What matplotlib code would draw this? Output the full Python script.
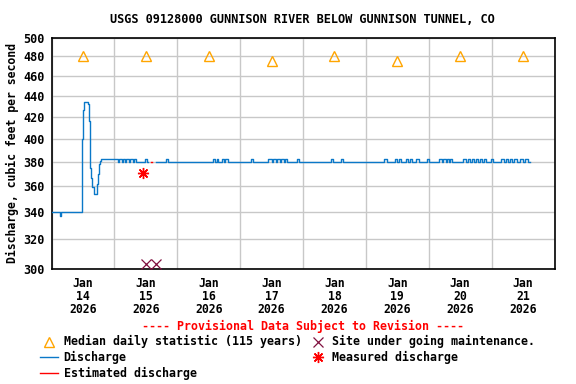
import matplotlib
matplotlib.use("Agg")
import matplotlib.pyplot as plt
from matplotlib.lines import Line2D
from matplotlib.ticker import FixedLocator, NullFormatter
import numpy as np

# ---------------- data (hours since Jan 14 2026 00:00) ----------------
day_labels = ["Jan\n14\n2026", "Jan\n15\n2026", "Jan\n16\n2026", "Jan\n17\n2026",
              "Jan\n18\n2026", "Jan\n19\n2026", "Jan\n20\n2026", "Jan\n21\n2026"]
label_hours = [12, 36, 60, 84, 108, 132, 156, 180]
grid_hours = [0, 24, 48, 72, 96, 120, 144, 168, 192]

# median daily statistic (115 years)
median_hours = [12, 36, 60, 84, 108, 132, 156, 180]
median_cfs = [480, 480, 480, 475, 480, 475, 480, 480]

# discharge, first part (before maintenance gap) -- step breakpoints
dis1_hours = [0, 3.1, 3.5, 11.75, 12.1, 12.5, 14.05, 14.4, 14.8, 15.2, 15.6, 16.1,
              17.25, 17.75, 18.1, 18.5, 19.0, 25.5, 25.9, 26.8, 27.2, 28.0, 28.4,
              29.5, 30.0, 31.2, 31.6, 32.3, 35.6, 36.4, 37.0]
dis1_cfs = [340, 337, 340, 400, 426, 434, 432, 416, 375, 367, 359, 354,
            362, 370, 378, 381, 382, 380, 382, 380, 382, 380, 382,
            380, 382, 380, 382, 380, 382, 380, 380]

# discharge, second part (after gap): base level with short blips
dis2_base = 380
dis2_blip = 382
dis2_start, dis2_end = 40.0, 182.6
blip_start = [43.7, 61.6, 63.0, 65.1, 66.2, 76.1, 82.6, 84.7, 86.1, 87.6, 89.1, 93.7,
              106.7, 110.5, 126.9, 131.3, 132.8, 135.3, 136.8, 139.3, 143.3, 147.9,
              149.6, 151.0, 152.1, 157.1, 158.8, 160.5, 162.0, 163.6, 165.1, 167.8,
              171.6, 173.3, 175.0, 176.5, 178.8, 180.7]
blip_end = [44.5, 62.4, 63.6, 65.8, 67.4, 76.9, 84.2, 85.7, 87.2, 88.7, 89.9, 94.5,
            107.4, 111.1, 128.1, 131.9, 133.4, 136.1, 137.6, 140.1, 144.1, 149.0,
            150.6, 151.7, 152.9, 158.2, 159.7, 161.3, 162.8, 164.3, 165.9, 168.5,
            172.7, 174.3, 175.8, 177.7, 180.0, 181.9]

# estimated discharge
est_hours = [38.1, 38.45]
est_cfs = [380, 380]

# measured discharge
meas_hours = [35.0]
meas_cfs = [371]

# site under going maintenance
maint_hours = [36.1, 39.9]
maint_cfs = [303, 303]

y_ticks = [300, 320, 340, 360, 380, 400, 420, 440, 460, 480, 500]

# ---------------- styling ----------------
FONT = "DejaVu Sans Mono"
BLUE = "#0a78c8"
ORANGE = "#ffa500"
MAROON = "#80103f"
RED = "#ff0000"
W, H = 576, 384

fig = plt.figure(figsize=(W / 100, H / 100), dpi=100)
L, R, T, B = 51.5, 554.5, 38.0, 268.5
ax = fig.add_axes([L / W, 1 - B / H, (R - L) / W, (B - T) / H])

ax.set_yscale("log")
ax.set_ylim(300, 500)
ax.set_xlim(0, 192)

# discharge series
h2 = [dis2_start]
v2 = [dis2_base]
for s, e in zip(blip_start, blip_end):
    h2 += [s, e]
    v2 += [dis2_blip, dis2_base]
h2.append(dis2_end)
v2.append(dis2_base)
ax.plot(dis1_hours, dis1_cfs, drawstyle="steps-post", color=BLUE, lw=1.0, zorder=3)
ax.plot(h2, v2, drawstyle="steps-post", color=BLUE, lw=1.0, zorder=3)
ax.plot(est_hours, est_cfs, color=RED, lw=1.0, zorder=3)

ax.plot(median_hours, median_cfs, ls="none", marker="^", ms=7, mfc="none",
        mec=ORANGE, mew=1.0, zorder=4)
ax.plot(meas_hours, meas_cfs, ls="none", marker=(8, 2, 0), ms=8, mec=RED,
        mew=1.0, zorder=4)
ax.plot(maint_hours, maint_cfs, ls="none", marker="x", ms=6.5, mec=MAROON,
        mew=0.9, zorder=4)

# axes / ticks
ax.yaxis.set_major_locator(FixedLocator(y_ticks))
ax.yaxis.set_minor_locator(FixedLocator([]))
ax.set_yticklabels([str(v) for v in y_ticks])
ax.yaxis.set_minor_formatter(NullFormatter())
ax.xaxis.set_major_locator(FixedLocator(label_hours))
ax.set_xticklabels(day_labels)
ax.xaxis.set_minor_locator(FixedLocator(grid_hours))
ax.tick_params(axis="both", which="both", length=0)
ax.tick_params(axis="y", pad=5)
ax.tick_params(axis="x", pad=6)
for lab in ax.get_xticklabels():
    lab.set_fontfamily(FONT)
    lab.set_fontweight("bold")
    lab.set_fontsize(8.3)
    lab.set_linespacing(1.0)
for lab in ax.get_yticklabels():
    lab.set_fontfamily(FONT)
    lab.set_fontweight("bold")
    lab.set_fontsize(8.5)

ax.grid(False, which="major", axis="x")
ax.grid(True, which="minor", axis="x", color="#c8c8c8", lw=1.0)
ax.grid(True, which="major", axis="y", color="#c8c8c8", lw=1.0)
ax.set_axisbelow(True)
for sp in ax.spines.values():
    sp.set_color("black")
    sp.set_linewidth(1.2)

ax.set_ylabel("Discharge, cubic feet per second", fontfamily=FONT,
              fontweight="bold", fontsize=8.3, labelpad=3)
fig.text(302 / W, 1 - 19.5 / H, "USGS 09128000 GUNNISON RIVER BELOW GUNNISON TUNNEL, CO",
         ha="center", va="center", fontfamily=FONT, fontweight="bold", fontsize=8.6)

# ---------------- legend ----------------
def fx(x):
    return x / W

def fy(y):
    return 1 - y / H

tkw = dict(fontfamily=FONT, fontweight="bold", fontsize=8.4, va="center", ha="left")
fig.text(fx(302.7), fy(326.5), "---- Provisional Data Subject to Revision ----",
         color=RED, fontfamily=FONT, fontweight="bold", fontsize=8.4,
         ha="center", va="center")
rows = [341.5, 357, 373]
fig.add_artist(Line2D([fx(49.0)], [fy(rows[0])], ls="none", marker="^", ms=7,
                      mfc="none", mec=ORANGE, mew=1.0, transform=fig.transFigure))
fig.text(fx(63.6), fy(rows[0]), "Median daily statistic (115 years)", **tkw)
fig.add_artist(Line2D([fx(318)], [fy(rows[0])], ls="none", marker="x", ms=6.5,
                      mec=MAROON, mew=0.9, transform=fig.transFigure))
fig.text(fx(332.5), fy(rows[0]), "Site under going maintenance.", **tkw)
fig.add_artist(Line2D([fx(39.7), fx(58)], [fy(rows[1])] * 2, color=BLUE, lw=1.0,
                      transform=fig.transFigure))
fig.text(fx(63.6), fy(rows[1]), "Discharge", **tkw)
fig.add_artist(Line2D([fx(318)], [fy(rows[1])], ls="none", marker=(8, 2, 0), ms=8,
                      mec=RED, mew=1.0, transform=fig.transFigure))
fig.text(fx(332.5), fy(rows[1]), "Measured discharge", **tkw)
fig.add_artist(Line2D([fx(39.7), fx(58)], [fy(rows[2])] * 2, color=RED, lw=1.0,
                      transform=fig.transFigure))
fig.text(fx(63.6), fy(rows[2]), "Estimated discharge", **tkw)

fig.savefig("out.png", dpi=100)
